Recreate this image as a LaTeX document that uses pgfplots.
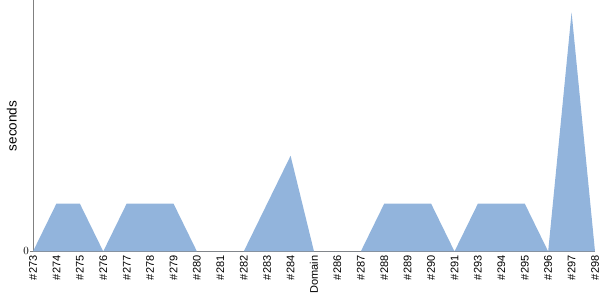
\documentclass[border=0pt]{standalone}
\usepackage{fontspec}
\setmainfont{Liberation Sans}
\usepackage{pgfplots}
\pgfplotsset{compat=1.18}
\definecolor{areablue}{RGB}{146,180,220}
\definecolor{axgray}{RGB}{128,128,128}
\begin{document}
\begin{tikzpicture}
\begin{axis}[
  name=ax,
  scale only axis,
  width=562pt, height=251pt,
  xmin=0, xmax=24, ymin=0, ymax=5.25,
  axis x line*=bottom, axis y line*=left,
  axis line style={axgray, line width=0.8pt, -},
  xtick={0,...,24},
  xticklabels={\#273,\#274,\#275,\#276,\#277,\#278,\#279,\#280,\#281,\#282,\#283,\#284,Domain,\#286,\#287,\#288,\#289,\#290,\#291,\#293,\#294,\#295,\#296,\#297,\#298},
  x tick label style={rotate=90, anchor=east, font=\fontsize{11}{11}\selectfont, inner sep=1pt},
  major x tick style={draw=none},
  ytick={0},
  y tick label style={font=\fontsize{11}{11}\selectfont, inner sep=1pt},
  major y tick style={axgray},
  tick align=outside,
  major tick length=3pt,
  ylabel={seconds},
  ylabel style={font=\fontsize{13.5}{13.5}\selectfont, at={(rel axis cs:0,0.5)}, anchor=south, inner sep=0pt, yshift=16pt},
  clip=false,
]
\addplot[fill=areablue, draw=none] coordinates {
(0,0) (1,1) (2,1) (3,0) (4,1) (5,1) (6,1) (7,0) (8,0) (9,0) (10,1) (11,2) (12,0) (13,0) (14,0) (15,1) (16,1) (17,1) (18,0) (19,1) (20,1) (21,1) (22,0) (23,5) (24,0)
} \closedcycle;
\end{axis}
\path[use as bounding box] ([shift={(-33pt,-49pt)}]ax.south west) rectangle ([shift={(5pt,0pt)}]ax.north east);
\end{tikzpicture}
\end{document}
